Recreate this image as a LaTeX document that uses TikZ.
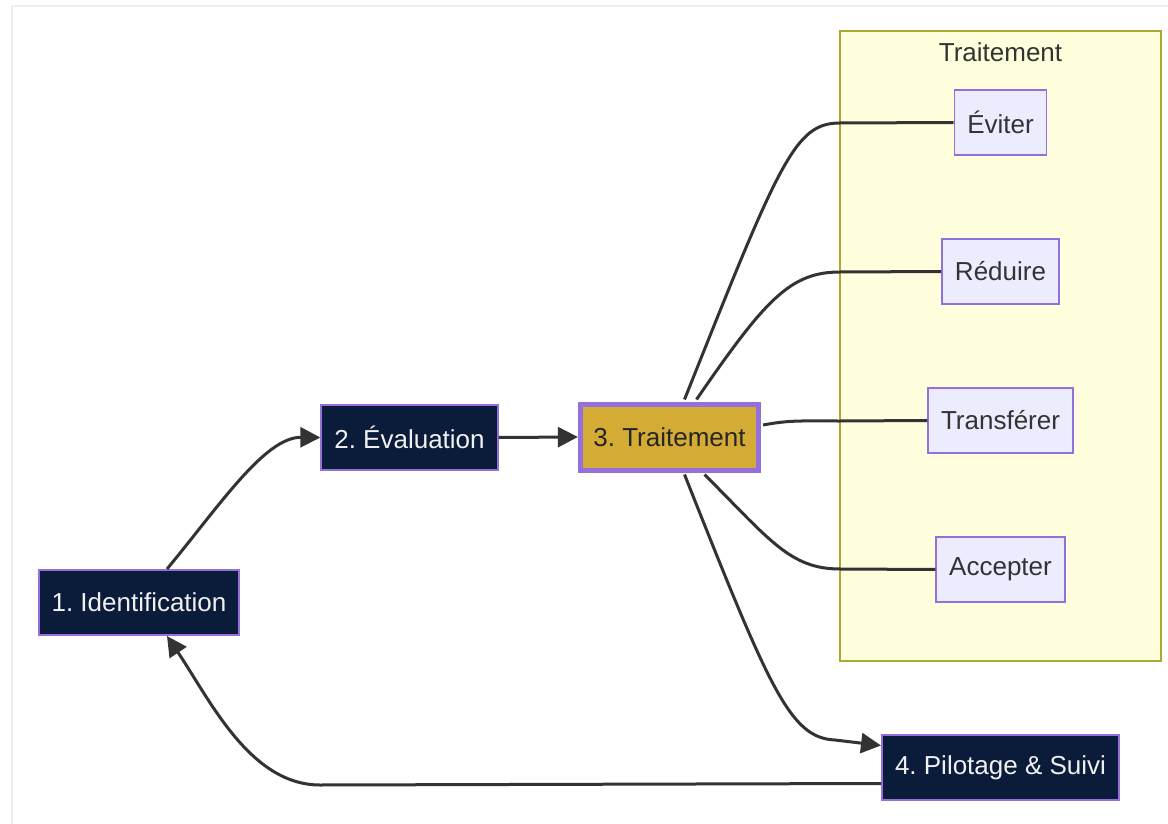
\documentclass[tikz,border=0pt]{standalone}
\usepackage{fontspec}
\setmainfont{Liberation Sans}
\frenchspacing
\usetikzlibrary{arrows.meta,calc}
\definecolor{navy}{HTML}{0B1C3B}
\definecolor{lilac}{HTML}{9370DB}
\definecolor{gold}{HTML}{D3AB35}
\definecolor{leaf}{HTML}{ECECFF}
\definecolor{groupfill}{HTML}{FFFFDE}
\definecolor{groupline}{HTML}{AAAA33}
\definecolor{ink}{HTML}{333333}
\definecolor{framegray}{HTML}{EEEEEE}
\tikzset{
  box/.style={rectangle, inner xsep=13pt, minimum height=65pt, font=\fontsize{26}{30}\selectfont},
  stage/.style={box, fill=navy, draw=lilac, line width=2pt, text=white!94!black},
  current/.style={box, fill=gold, draw=lilac, line width=5pt, minimum height=66pt, text=black!85},
  option/.style={box, fill=leaf, draw=lilac, line width=1.5pt, text=ink},
  link/.style={draw=ink, line width=3pt},
  flow/.style={link, -{Triangle[length=20pt,width=20pt]}}
}
\begin{document}
\begin{tikzpicture}[x=1pt,y=-1pt]
\useasboundingbox (0,0) rectangle (1168,824);
\draw[framegray, line width=2pt] (12,830) -- (12,6) -- (1170,6);
\draw[fill=groupfill, draw=groupline, line width=1.5pt] (840,31) rectangle (1161,661);
\node[text=ink, font=\fontsize{26}{30}\selectfont] (grouptitle) at (1000.5,52) {Traitement};

\node[stage] (ident) at (139,602.5) {1. Identification};
\node[stage] (eval) at (409.5,437.5) {2. Évaluation};
\node[current] (treat) at (669.5,437) {3. Traitement};
\node[stage] (pilot) at (1000.5,767.5) {4. Pilotage \& Suivi};

\node[option] (avoid) at (1000.5,122.5) {Éviter};
\node[option] (reduce) at (1000.5,271.5) {Réduire};
\node[option] (transfer) at (1000.5,420.5) {Transférer};
\node[option] (accept) at (1000.5,569.5) {Accepter};

\draw[flow] ($(ident.north)+(28,0)$) .. controls (220,505) and (265,437) .. (eval.west);
\draw[flow] (eval.east) -- (treat.west);
\draw[link] ($(treat.north)+(15,-2)$) .. controls (780,160) and (795,123) .. (840,123) -- (avoid.west);
\draw[link] ($(treat.north)+(27,-2)$) .. controls (765,300) and (790,272) .. (840,272) -- (reduce.west);
\draw[link] ($(treat.east)+(2,-12)$) .. controls (790,420) and (800,421) .. (840,421) -- (transfer.west);
\draw[link] ($(treat.south)+(35,2)$) .. controls (770,540) and (790,569) .. (840,569) -- (accept.west);
\draw[flow] ($(treat.south)+(15,2)$) .. controls (770,690) and (790,738) .. (835,740) -- ($(pilot.west)+(0,-22)$);
\draw[flow] ($(pilot.west)+(0,16)$) -- (320,785) .. controls (250,785) and (210,700) .. ($(ident.south)+(28,0)$);
\end{tikzpicture}
\end{document}
